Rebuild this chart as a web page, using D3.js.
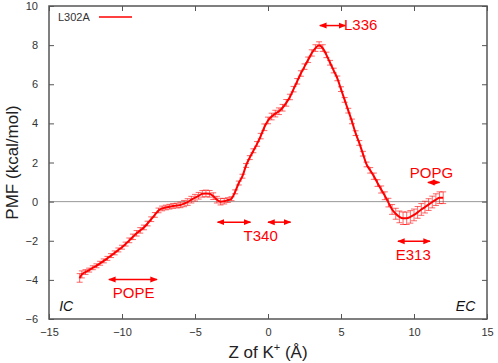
<!DOCTYPE html>
<html><head><meta charset="utf-8">
<script src="https://cdn.jsdelivr.net/npm/d3@7"></script>
<style>
html,body{margin:0;padding:0;background:#fff;}
svg{display:block;font-family:"Liberation Sans",Arial,Helvetica,sans-serif;}
</style></head>
<body>
<svg id="chart" width="498" height="363"></svg>
<script>
// ---- data ----
const zValues = [-12.9,-12.75,-12.5,-12.25,-12.0,-11.75,-11.5,-11.25,-11.0,-10.75,-10.5,-10.25,-10.0,-9.75,-9.5,-9.25,-9.0,-8.75,-8.5,-8.25,-8.0,-7.75,-7.5,-7.25,-7.0,-6.75,-6.5,-6.25,-6.0,-5.75,-5.5,-5.25,-5.0,-4.75,-4.5,-4.25,-4.0,-3.75,-3.5,-3.25,-3.0,-2.75,-2.5,-2.25,-2.0,-1.75,-1.5,-1.25,-1.0,-0.75,-0.5,-0.25,0.0,0.25,0.5,0.75,1.0,1.25,1.5,1.75,2.0,2.25,2.5,2.75,3.0,3.25,3.5,3.75,4.0,4.25,4.5,4.75,5.0,5.25,5.5,5.75,6.0,6.25,6.5,6.75,7.0,7.25,7.5,7.75,8.0,8.25,8.5,8.75,9.0,9.25,9.5,9.75,10.0,10.25,10.5,10.75,11.0,11.25,11.5,11.75,12.0];
const pmfValues = [-3.9,-3.72,-3.6,-3.5,-3.38,-3.28,-3.15,-3.03,-2.9,-2.76,-2.62,-2.47,-2.33,-2.17,-1.98,-1.8,-1.62,-1.47,-1.32,-1.12,-0.9,-0.68,-0.45,-0.35,-0.3,-0.26,-0.22,-0.2,-0.17,-0.1,-0.02,0.1,0.2,0.3,0.4,0.42,0.4,0.28,0.1,0.0,0.02,0.08,0.15,0.5,0.95,1.3,1.85,2.25,2.6,2.95,3.35,3.8,4.15,4.35,4.5,4.62,4.8,5.05,5.35,5.75,6.15,6.55,6.9,7.25,7.6,7.85,8.0,7.85,7.5,7.1,6.7,6.3,5.75,5.2,4.65,4.1,3.5,3.0,2.45,1.9,1.6,1.3,0.95,0.62,0.3,-0.05,-0.4,-0.62,-0.78,-0.85,-0.85,-0.78,-0.68,-0.55,-0.4,-0.28,-0.15,-0.02,0.1,0.2,0.2];
const errValues = [0.22,0.18,0.12,0.1,0.1,0.1,0.1,0.1,0.1,0.1,0.1,0.1,0.1,0.1,0.12,0.14,0.14,0.14,0.12,0.12,0.12,0.12,0.12,0.12,0.12,0.12,0.12,0.12,0.14,0.16,0.17,0.17,0.17,0.17,0.17,0.17,0.17,0.17,0.17,0.17,0.14,0.12,0.1,0.1,0.1,0.1,0.1,0.1,0.1,0.12,0.14,0.17,0.17,0.17,0.17,0.17,0.17,0.17,0.14,0.14,0.14,0.14,0.14,0.14,0.16,0.17,0.17,0.17,0.14,0.12,0.12,0.12,0.12,0.12,0.12,0.12,0.12,0.12,0.12,0.12,0.14,0.16,0.17,0.18,0.2,0.22,0.25,0.28,0.3,0.32,0.32,0.32,0.3,0.3,0.3,0.3,0.3,0.3,0.3,0.3,0.3];
const xTicks = [-15,-10,-5,0,5,10,15];
const yTicks = [-6,-4,-2,0,2,4,6,8,10];
const seriesName = "L302A";
// annotations: [x1, x2, y] range arrows (data units), labels [text, x, y]
const arrowRanges = [[-10.9,-7.6,-3.98],[-3.45,-1.2,-1.05],[0.0,1.55,-1.05],[8.9,11.1,-2.03],[3.55,5.3,9.0],[10.95,11.75,0.98]];
const annoLabels = [["POPE",-9.2,-4.95],["T340",-0.5,-2.0],["E313",9.95,-3.0],["L336",6.35,8.75],["POPG",11.2,1.2]];
const sideLabels = [["IC",-14.3,-5.6,"start"],["EC",14.2,-5.6,"end"]];

// ---- layout ----
const svg = d3.select("#chart");
const L = 49, R = 487, T = 6, B = 319;
const x = d3.scaleLinear().domain([-15,15]).range([L,R]);
const y = d3.scaleLinear().domain([-6,10]).range([B,T]);
const red = "#ff0000";
const frameCol = "#555";
const tickFont = "11px";

// zero line
svg.append("line").attr("x1",L).attr("x2",R).attr("y1",y(0)).attr("y2",y(0))
  .attr("stroke","#999").attr("stroke-width",1);

// axes with inward ticks
const xb = svg.append("g").attr("transform",`translate(0,${B})`)
  .call(d3.axisBottom(x).tickValues(xTicks).tickSize(-5).tickPadding(9).tickFormat(d=>d<0?"\u2212"+Math.abs(d):d));
const xt = svg.append("g").attr("transform",`translate(0,${T})`)
  .call(d3.axisTop(x).tickValues(xTicks).tickSize(-5).tickFormat(""));
const yl = svg.append("g").attr("transform",`translate(${L},0)`)
  .call(d3.axisLeft(y).tickValues(yTicks).tickSize(-5).tickPadding(11).tickFormat(d=>d<0?"\u2212"+Math.abs(d):d));
const yr = svg.append("g").attr("transform",`translate(${R},0)`)
  .call(d3.axisRight(y).tickValues(yTicks).tickSize(-5).tickFormat(""));
[xb,xt,yl,yr].forEach(g=>{
  g.select(".domain").remove();
  g.selectAll(".tick line").attr("stroke",frameCol).attr("stroke-width",1);
  g.selectAll(".tick text").attr("fill","#333").style("font-size",tickFont).style("font-family","Liberation Sans, Arial, sans-serif");
});
// frame
svg.append("rect").attr("x",L).attr("y",T).attr("width",R-L).attr("height",B-T)
  .attr("fill","none").attr("stroke",frameCol).attr("stroke-width",1.5);

// data
const data = zValues.map((z,i)=>({z, v:pmfValues[i], e:errValues[i]}));
const eb = svg.append("g").attr("stroke",red).attr("stroke-opacity",0.6).attr("stroke-width",1);
data.forEach(d=>{
  const x0 = x(d.z), y1 = y(d.v+d.e), y2 = y(d.v-d.e);
  eb.append("line").attr("x1",x0).attr("x2",x0).attr("y1",y1).attr("y2",y2);
  eb.append("line").attr("x1",x0-3).attr("x2",x0+3).attr("y1",y1).attr("y2",y1);
  eb.append("line").attr("x1",x0-3).attr("x2",x0+3).attr("y1",y2).attr("y2",y2);
});
svg.append("path").datum(data)
  .attr("d",d3.line().x(d=>x(d.z)).y(d=>y(d.v)).curve(d3.curveMonotoneX))
  .attr("fill","none").attr("stroke",red).attr("stroke-width",2);

// legend
svg.append("text").attr("x",58).attr("y",21).text(seriesName)
  .attr("fill","#333").style("font-size","11px");
svg.append("line").attr("x1",99).attr("x2",132).attr("y1",17).attr("y2",17)
  .attr("stroke",red).attr("stroke-width",1.5);

// arrows
const defs = svg.append("defs");
defs.append("marker").attr("id","ah").attr("viewBox","0 0 10 10").attr("refX",9).attr("refY",5)
  .attr("markerWidth",5).attr("markerHeight",5).attr("orient","auto-start-reverse")
  .append("path").attr("d","M0,1 L10,5 L0,9 z").attr("fill",red);
arrowRanges.forEach(a=>{
  svg.append("line").attr("x1",x(a[0])).attr("x2",x(a[1])).attr("y1",y(a[2])).attr("y2",y(a[2]))
    .attr("stroke",red).attr("stroke-width",1.5)
    .attr("marker-start","url(#ah)").attr("marker-end","url(#ah)");
});
annoLabels.forEach(l=>{
  svg.append("text").attr("x",x(l[1])).attr("y",y(l[2])).attr("text-anchor","middle")
    .text(l[0]).attr("fill",red).style("font-size","15px");
});
sideLabels.forEach(l=>{
  svg.append("text").attr("x",x(l[1])).attr("y",y(l[2])).attr("text-anchor",l[3])
    .text(l[0]).attr("fill","#111").style("font-size","14px").style("font-style","italic");
});

// axis titles
svg.append("text").attr("transform",`translate(18,${(T+B)/2}) rotate(-90)`).attr("text-anchor","middle")
  .text("PMF (kcal/mol)").attr("fill","#222").style("font-size","17px");
const xtitle = svg.append("text").attr("x",(L+R)/2).attr("y",358).attr("text-anchor","middle")
  .attr("fill","#222").style("font-size","17px");
xtitle.append("tspan").text("Z of K");
xtitle.append("tspan").text("+").attr("dy",-7).style("font-size","11px");
xtitle.append("tspan").text(" (Å)").attr("dy",7);
</script>
</body></html>
